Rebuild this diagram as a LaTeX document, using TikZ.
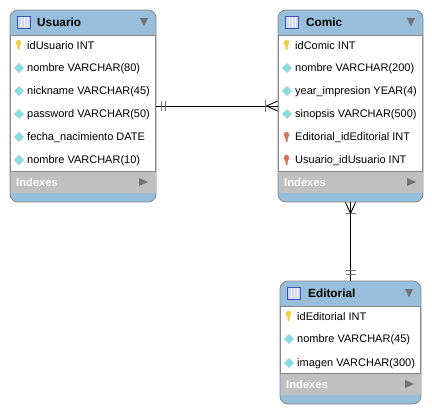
\documentclass[tikz,border=0pt]{standalone}
\usepackage{fontspec}
\setmainfont{Liberation Sans}
\usetikzlibrary{shapes.geometric, positioning, calc}
\definecolor{headblue}{RGB}{151, 191, 219}
\definecolor{indexgray}{RGB}{192, 192, 192}
\definecolor{framegray}{RGB}{135, 135, 135}
\definecolor{markgray}{RGB}{115, 115, 115}
\definecolor{columnteal}{RGB}{130, 225, 228}
\definecolor{keyyellow}{RGB}{245, 205, 60}
\definecolor{keyred}{RGB}{225, 105, 90}
\definecolor{iconblue}{RGB}{60, 80, 190}
\definecolor{iconfill}{RGB}{205, 215, 245}
\tikzset{
    keyicon/.pic={
        \fill[#1] (0,-2.2) ellipse (2.7 and 3);
        \fill[#1] (-1.6,-2) -- (1.6,-2) -- (0.9,5) -- (-0.6,5) -- cycle;
    }
}
\begin{document}
\begin{tikzpicture}[
    x=1pt, y=-1pt,
    tableframe/.style={draw=framegray, fill=headblue, rounded corners=8pt, inner sep=0pt, line width=0.8pt},
    tablebody/.style={draw=framegray, fill=white, line width=0.6pt},
    indexband/.style={fill=indexgray},
    tablename/.style={anchor=west, inner sep=0pt, font=\fontsize{11.8}{14}\selectfont\bfseries},
    rowtext/.style={anchor=west, inner sep=0pt, font=\fontsize{11}{13}\selectfont},
    indextext/.style={anchor=west, inner sep=0pt, text=white, font=\fontsize{11.2}{13}\selectfont\bfseries},
    columnicon/.style={diamond, fill=columnteal, draw=gray!50, line width=0.4pt, inner sep=0pt, minimum size=9.5pt},
    tableicon/.style={draw=iconblue, fill=iconfill, line width=0.9pt, inner sep=0pt, minimum width=13pt, minimum height=12pt},
    iconline/.style={white, line width=0.5pt},
    foldmark/.style={fill=markgray},
    rel/.style={black, line width=0.9pt},
    barmark/.style={markgray, line width=1.3pt}
]
\useasboundingbox (0,0) rectangle (432,413);

% Usuario
\node[tableframe, minimum width=146pt, minimum height=192pt] (usuario) at (83,106) {};
\filldraw[tablebody] (10.5,35) rectangle (155.5,171);
\fill[indexband] (10.5,171.5) rectangle (155.5,193);
\node[tableicon] (usuarioicon) at (24,22) {};
\draw[iconline] (21,17) -- (21,27) (24,17) -- (24,27) (27,17) -- (27,27);
\node[tablename] (usuarioname) at (37,22) {Usuario};
\fill[foldmark] (140,18) -- (148,18) -- (144,26) -- cycle;
\pic at (18.5,45) {keyicon=keyyellow};
\node[rowtext] (u1) at (27,45.5) {idUsuario INT};
\node[columnicon] (i2) at (19,68) {};
\node[rowtext] (u2) at (27,68.5) {nombre VARCHAR(80)};
\node[columnicon] (i3) at (19,91) {};
\node[rowtext] (u3) at (27,91.5) {nickname VARCHAR(45)};
\node[columnicon] (i4) at (19,114) {};
\node[rowtext] (u4) at (27,114.5) {password VARCHAR(50)};
\node[columnicon] (i5) at (19,137) {};
\node[rowtext] (u5) at (27,137.5) {fecha\_nacimiento DATE};
\node[columnicon] (i6) at (19,160) {};
\node[rowtext] (u6) at (27,160.5) {nombre VARCHAR(10)};
\node[indextext] (u7) at (16,182.5) {Indexes};
\fill[foldmark] (139,178) -- (148,182) -- (139,186) -- cycle;

% Comic
\node[tableframe, minimum width=145pt, minimum height=192pt] (comic) at (350.5,106) {};
\filldraw[tablebody] (278.5,35) rectangle (422.5,171);
\fill[indexband] (278.5,171.5) rectangle (422.5,193);
\node[tableicon] (comicicon) at (292,22) {};
\draw[iconline] (289,17) -- (289,27) (292,17) -- (292,27) (295,17) -- (295,27);
\node[tablename] (comicname) at (306,22) {Comic};
\fill[foldmark] (407,18) -- (415,18) -- (411,26) -- cycle;
\pic at (286.5,45) {keyicon=keyyellow};
\node[rowtext] (c1) at (295,45.5) {idComic INT};
\node[columnicon] (j2) at (287,68) {};
\node[rowtext] (c2) at (295,68.5) {nombre VARCHAR(200)};
\node[columnicon] (j3) at (287,91) {};
\node[rowtext] (c3) at (295,91.5) {year\_impresion YEAR(4)};
\node[columnicon] (j4) at (287,114) {};
\node[rowtext] (c4) at (295,114.5) {sinopsis VARCHAR(500)};
\pic at (286.5,137) {keyicon=keyred};
\node[rowtext] (c5) at (295,137.5) {Editorial\_idEditorial INT};
\pic at (286.5,160) {keyicon=keyred};
\node[rowtext] (c6) at (295,160.5) {Usuario\_idUsuario INT};
\node[indextext] (c7) at (284,182.5) {Indexes};
\fill[foldmark] (407,178) -- (416,182) -- (407,186) -- cycle;

% Editorial
\node[tableframe, minimum width=141pt, minimum height=123pt] (editorial) at (350.5,342.5) {};
\filldraw[tablebody] (280.5,306) rectangle (420.5,373);
\fill[indexband] (280.5,373.5) rectangle (420.5,395);
\node[tableicon] (editorialicon) at (294,293) {};
\draw[iconline] (291,288) -- (291,298) (294,288) -- (294,298) (297,288) -- (297,298);
\node[tablename] (editorialname) at (308,293) {Editorial};
\fill[foldmark] (405,289) -- (413,289) -- (409,297) -- cycle;
\pic at (288.5,316) {keyicon=keyyellow};
\node[rowtext] (e1) at (297,316.5) {idEditorial INT};
\node[columnicon] (k2) at (289,339) {};
\node[rowtext] (e2) at (297,339.5) {nombre VARCHAR(45)};
\node[columnicon] (k3) at (289,363) {};
\node[rowtext] (e3) at (297,363.5) {imagen VARCHAR(300)};
\node[indextext] (e4) at (286,384.5) {Indexes};
\fill[foldmark] (405,380) -- (414,384) -- (405,388) -- cycle;

% relations
\draw[rel] (usuario.east) -- (comic.west);
\draw[barmark] ($(usuario.east)+(5,-5)$) -- ++(0,10);
\draw[barmark] ($(usuario.east)+(9,-5)$) -- ++(0,10);
\draw[barmark] ($(comic.west)+(-12,-6)$) -- ++(0,12);
\draw[rel] ($(comic.west)+(0,-5)$) -- ($(comic.west)+(-11,0)$) -- ($(comic.west)+(0,5)$);

\draw[rel] (comic.south) -- (editorial.north);
\draw[barmark] ($(comic.south)+(-5,11)$) -- ++(10,0);
\draw[rel] ($(comic.south)+(-5,0)$) -- ($(comic.south)+(0,11)$) -- ($(comic.south)+(5,0)$);
\draw[barmark] ($(editorial.north)+(-5,-6)$) -- ++(10,0);
\draw[barmark] ($(editorial.north)+(-5,-10)$) -- ++(10,0);
\end{tikzpicture}
\end{document}
